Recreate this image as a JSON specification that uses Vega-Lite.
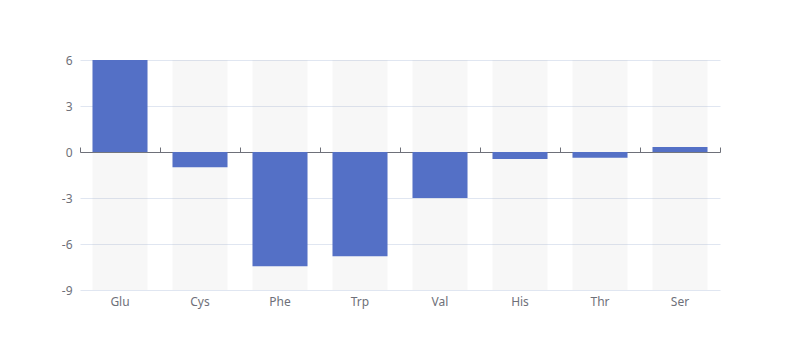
{
  "$schema": "https://vega.github.io/schema/vega-lite/v6.json",
  "width": 640,
  "height": 230,
  "autosize": {"type": "none"},
  "padding": {"left": 80, "top": 60, "right": 80, "bottom": 70},
  "background": "#ffffff",
  "config": {
    "view": {"stroke": null},
    "font": "Noto Sans",
    "axis": {"labelColor": "#6e7079", "labelFontSize": 12, "labelFont": "Noto Sans"}
  },
  "data": {
    "values": [
      {"name": "Glu", "value": 6},
      {"name": "Cys", "value": -1},
      {"name": "Phe", "value": -7.45},
      {"name": "Trp", "value": -6.8},
      {"name": "Val", "value": -3},
      {"name": "His", "value": -0.45},
      {"name": "Thr", "value": -0.38},
      {"name": "Ser", "value": 0.33}
    ]
  },
  "resolve": {"axis": {"x": "independent"}},
  "layer": [
    {
      "mark": {"type": "bar", "color": "rgba(180,180,180,0.1)", "width": {"band": 0.6875}},
      "encoding": {
        "x": {
          "field": "name", "type": "nominal", "sort": null,
          "scale": {"paddingInner": 0, "paddingOuter": 0},
          "axis": {"title": null, "domain": false, "ticks": false, "labelAngle": 0, "labelPadding": 6}
        },
        "y": {"datum": 6, "type": "quantitative",
          "scale": {"domain": [-9, 6], "nice": false, "zero": false},
          "axis": {"title": null, "values": [-9, -6, -3, 0, 3, 6], "labelExpr": "'' + datum.value", "domain": false, "ticks": false, "grid": true, "gridColor": "#e0e6f1", "gridWidth": 1, "labelPadding": 8}},
        "y2": {"datum": -9}
      }
    },
    {
      "mark": {"type": "bar", "color": "#5470c6", "width": {"band": 0.6875}},
      "encoding": {
        "x": {"field": "name", "type": "nominal", "sort": null,
          "axis": {"title": null, "labels": false, "domain": true, "domainColor": "#6e7079", "ticks": true, "tickColor": "#6e7079", "tickSize": 5, "tickBand": "extent", "offset": -92, "grid": false}},
        "y": {"field": "value", "type": "quantitative"},
        "y2": {"datum": 0}
      }
    }
  ]
}
